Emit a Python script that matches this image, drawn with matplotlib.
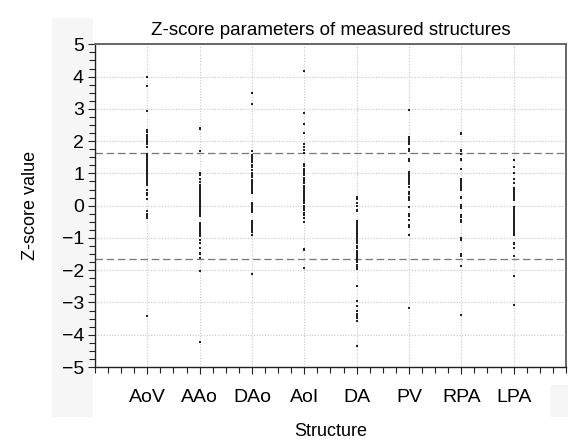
import numpy as np
import matplotlib
matplotlib.use("Agg")
import matplotlib.pyplot as plt
from matplotlib.patches import Rectangle
from matplotlib.ticker import MultipleLocator

plt.rcParams['font.family'] = ['Liberation Sans Narrow', 'Liberation Sans', 'DejaVu Sans']

structures = ["AoV", "AAo", "DAo", "AoI", "DA", "PV", "RPA", "LPA"]

aov = [4.0, 3.71, 2.94, 2.35, 2.31, 2.27, 2.18, 2.12, 2.07, 2.02, 1.97, 1.92, 1.82,
       1.61, 1.56, 1.51, 1.46, 1.41, 1.36, 1.31, 1.25, 1.20, 1.15, 1.10, 1.05, 1.0,
       0.95, 0.90, 0.85, 0.80, 0.74, 0.69, 0.64, 0.49, 0.40, 0.33, 0.20,
       -0.18, -0.25, -0.31, -0.38, -3.41]
aao = [2.41, 2.38, 1.68, 1.0, 0.95, 0.84, 0.74, 0.64, 0.59, 0.54, 0.49, 0.43, 0.38,
       0.33, 0.28, 0.23, 0.18, 0.13, 0.08, 0.02, -0.03, -0.08, -0.13, -0.18, -0.23,
       -0.28, -0.33, -0.54, -0.59, -0.64, -0.69, -0.74, -0.79, -0.84, -0.90, -0.95,
       -1.05, -1.15, -1.31, -1.46, -1.51, -1.61, -2.02, -4.23]
dao = [3.48, 3.15, 1.68, 1.56, 1.51, 1.46, 1.41, 1.36, 1.25, 1.20, 1.10, 1.0, 0.95,
       0.90, 0.80, 0.74, 0.69, 0.64, 0.59, 0.54, 0.49, 0.43, 0.38, 0.08, 0.02, -0.03,
       -0.08, -0.15, -0.21, -0.49, -0.54, -0.59, -0.64, -0.69, -0.74, -0.83, -0.90,
       -2.11]
aoi = [4.17, 2.86, 2.53, 2.25, 1.92, 1.82, 1.72, 1.63, 1.28, 1.22, 1.15, 1.08, 1.0,
       0.95, 0.87, 0.81, 0.74, 0.69, 0.61, 0.54, 0.49, 0.43, 0.38, 0.33, 0.28, 0.23,
       0.18, 0.13, 0.08, -0.01, -0.08, -0.15, -0.23, -0.30, -0.39, -0.52, -1.33,
       -1.38, -1.93]
da = [0.28, 0.20, 0.08, 0.0, -0.15, -0.18, -0.49, -0.54, -0.59, -0.64, -0.69, -0.74,
      -0.79, -0.84, -0.90, -0.95, -1.0, -1.05, -1.10, -1.17, -1.26, -1.31, -1.41,
      -1.46, -1.51, -1.56, -1.61, -1.66, -1.71, -1.76, -1.85, -1.91, -1.97, -2.49,
      -2.95, -3.12, -3.28, -3.37, -3.43, -3.49, -3.56, -4.35]
pv = [2.96, 2.12, 2.07, 2.02, 1.96, 1.90, 1.77, 1.70, 1.46, 1.39, 1.05, 1.0, 0.95,
      0.90, 0.84, 0.79, 0.74, 0.67, 0.59, 0.43, 0.36, 0.28, 0.22, 0.16, -0.03, -0.25,
      -0.33, -0.46, -0.59, -0.66, -0.90, -3.18]
rpa = [2.25, 2.21, 1.74, 1.69, 1.61, 1.46, 1.41, 1.15, 0.84, 0.79, 0.74, 0.69, 0.64,
       0.59, 0.54, 0.49, 0.28, 0.23, 0.02, -0.03, -0.08, -0.30, -0.35, -0.44, -0.52,
       -1.0, -1.05, -1.51, -1.56, -1.87, -3.39]
lpa = [1.41, 1.20, 1.0, 0.84, 0.69, 0.54, 0.49, 0.43, 0.38, 0.33, 0.28, 0.23, 0.18,
       -0.03, -0.08, -0.13, -0.18, -0.23, -0.28, -0.33, -0.39, -0.44, -0.49, -0.54,
       -0.59, -0.64, -0.69, -0.74, -0.79, -0.84, -0.90, -1.15, -1.20, -1.31, -1.56,
       -2.19, -3.08]
zvalues = [aov, aao, dao, aoi, da, pv, rpa, lpa]
cutoff = 1.645

fig = plt.figure(figsize=(5.68, 4.41), dpi=100)
# faint grey panels behind the label areas
fig.patches.append(Rectangle((52/568, 1-417/441), 41/568, 399/441, transform=fig.transFigure,
                             facecolor='#f6f6f6', edgecolor='none', zorder=-5))
fig.patches.append(Rectangle((550/568, 1-417/441), 18/568, 32/441, transform=fig.transFigure,
                             facecolor='#f6f6f6', edgecolor='none', zorder=-5))
ax = fig.add_axes([95/568, 1-367/441, 471/568, 322.7/441])

for i, vals in enumerate(zvalues):
    ax.plot(np.full(len(vals), i + 1), vals, 's', color='#222222', markersize=2.0,
            markeredgewidth=0, zorder=3)

ax.axhline(cutoff, color='#777777', linestyle=(0, (6, 3)), linewidth=0.9, zorder=2)
ax.axhline(-cutoff, color='#777777', linestyle=(0, (6, 3)), linewidth=0.9, zorder=2)

ax.set_xlim(0, 9)
ax.set_ylim(-5, 5)
ax.set_xticks(range(1, 9))
ax.set_xticklabels(structures)
ax.xaxis.set_minor_locator(MultipleLocator(0.25))
ax.set_yticks(range(-5, 6))
ax.set_yticklabels([str(v).replace('-', '\u2212') for v in range(-5, 6)])
ax.yaxis.set_minor_locator(MultipleLocator(0.25))

ax.grid(True, which='major', color='#c8c8c8', linestyle=(0, (1, 1.5)), linewidth=0.8)
ax.tick_params(axis='both', which='major', labelsize=14, length=5, width=0.8,
               color='#222222', direction='out')
ax.tick_params(axis='both', which='minor', length=4, width=0.8, color='#222222',
               direction='out')
ax.tick_params(axis='x', which='major', pad=11)
ax.tick_params(axis='y', which='major', pad=3)

for side in ['left', 'bottom']:
    ax.spines[side].set_color('#222222')
    ax.spines[side].set_linewidth(1.0)
for side in ['top', 'right']:
    ax.spines[side].set_color('#666666')
    ax.spines[side].set_linewidth(1.4)

ax.set_title("Z-score parameters of measured structures", fontsize=13.5, pad=7)
ax.set_ylabel("Z-score value", fontsize=13, labelpad=16)
ax.set_xlabel("Structure", fontsize=13, labelpad=12)

fig.savefig("out.png", dpi=100)
